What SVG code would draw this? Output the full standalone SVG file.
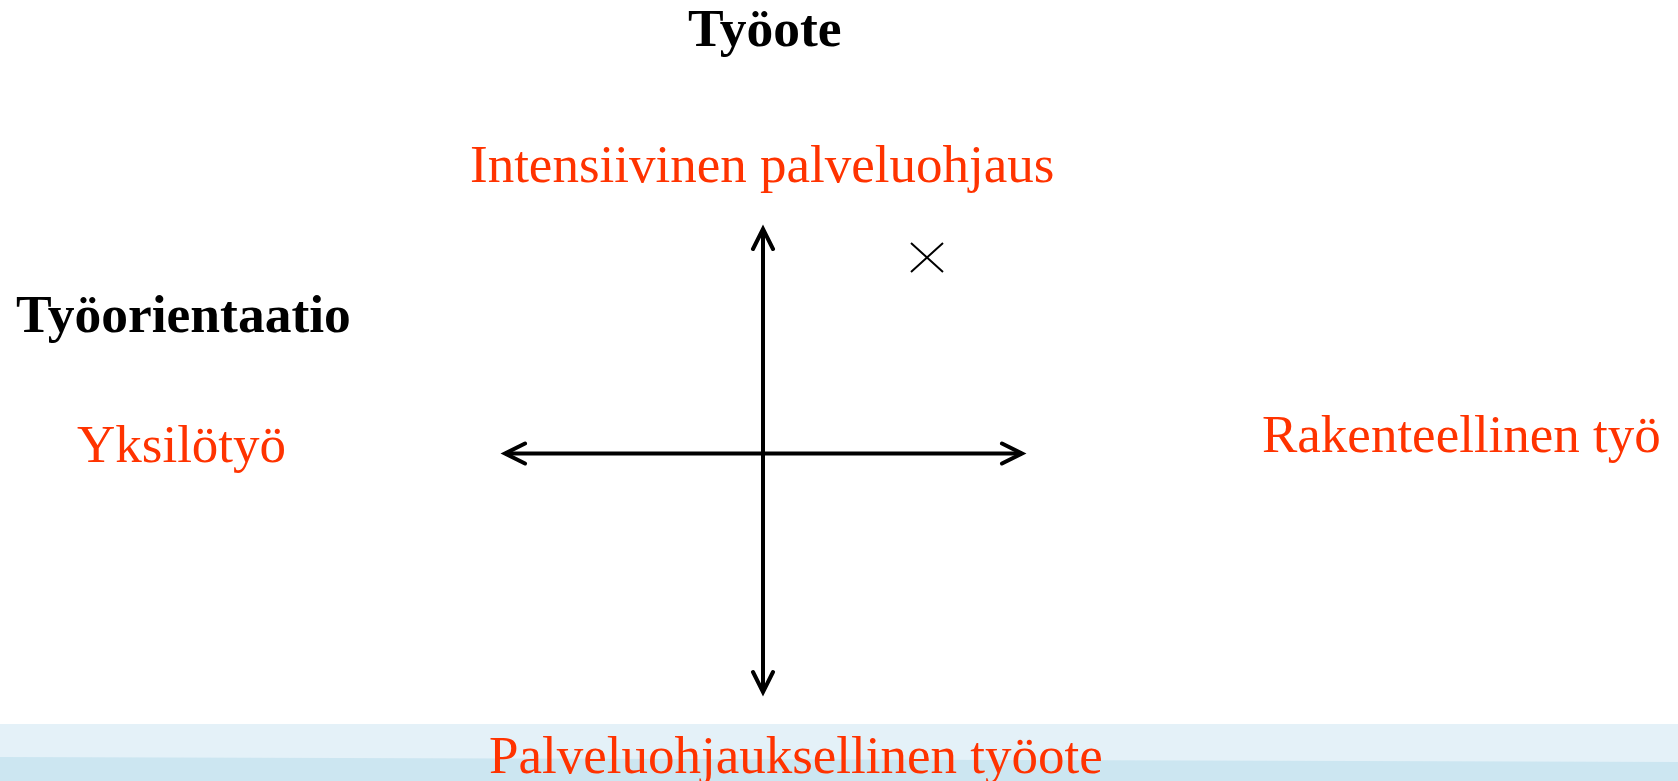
<svg xmlns="http://www.w3.org/2000/svg" width="1678" height="781" viewBox="0 0 1678 781">
<style>
.bold{font-family:"Liberation Serif","Times New Roman",serif;font-weight:bold;font-size:53.5px;fill:#000}
.red{font-family:"Liberation Serif","Times New Roman",serif;font-size:53px;fill:#FF3300}
.axis{stroke:#000;stroke-width:4;fill:none}
</style>
<defs>
<marker id="arr" markerUnits="userSpaceOnUse" viewBox="-26 -14 30 28" markerWidth="30" markerHeight="28" refX="0" refY="0" orient="auto-start-reverse" overflow="visible">
<path d="M -20 -10 L 0 0 L -20 10" fill="none" stroke="#000" stroke-width="4" stroke-linecap="round" stroke-linejoin="miter"/>
</marker>
</defs>
<rect x="0" y="0" width="1678" height="781" fill="#fff"/>
<g id="band">
<rect x="0" y="724" width="1678" height="57" fill="#E4F1F8"/>
<polygon points="0,757 1678,762 1678,781 0,781" fill="#CCE6F1"/>
</g>
<g id="connectors">
<line class="axis" x1="763" y1="229" x2="763" y2="692" marker-start="url(#arr)" marker-end="url(#arr)"/>
<line class="axis" x1="505" y1="453.5" x2="1022" y2="453.5" marker-start="url(#arr)" marker-end="url(#arr)"/>
</g>
<g id="mark">
<path d="M 911 243 L 943 272 M 943 243 L 911 272" stroke="#000" stroke-width="2" fill="none"/>
</g>
<g id="title-tyoote"><text class="bold" x="688" y="46">Työote</text></g>
<g id="title-tyoorientaatio"><text class="bold" x="16" y="332">Työorientaatio</text></g>
<g id="node-top"><text class="red" x="470" y="182">Intensiivinen palveluohjaus</text></g>
<g id="node-left"><text class="red" x="77" y="462">Yksilötyö</text></g>
<g id="node-right"><text class="red" x="1262" y="452">Rakenteellinen työ</text></g>
<g id="node-bottom"><text class="red" x="489" y="773">Palveluohjauksellinen työote</text></g>
</svg>
